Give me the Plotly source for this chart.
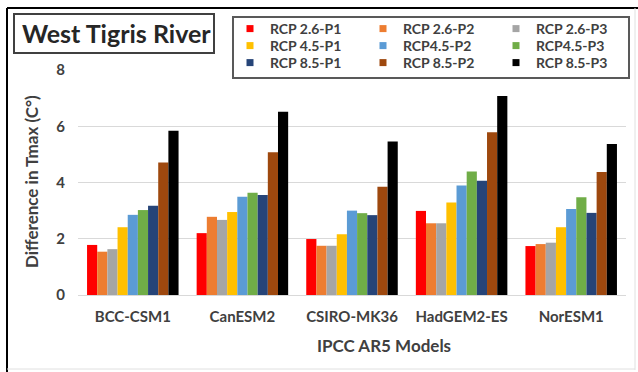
import plotly.graph_objects as go

models = ["BCC-CSM1", "CanESM2", "CSIRO-MK36", "HadGEM2-ES", "NorESM1"]
series_names = ["RCP 2.6-P1", "RCP 2.6-P2", "RCP 2.6-P3",
                "RCP 4.5-P1", "RCP4.5-P2", "RCP4.5-P3",
                "RCP 8.5-P1", "RCP 8.5-P2", "RCP 8.5-P3"]
colors = ["#FF0000", "#ED7D31", "#A5A5A5", "#FFC000", "#5B9BD5",
          "#70AD47", "#264478", "#9E480E", "#000000"]

rcp26_p1 = [1.78, 2.20, 1.99, 2.99, 1.74]
rcp26_p2 = [1.54, 2.78, 1.75, 2.55, 1.81]
rcp26_p3 = [1.63, 2.67, 1.75, 2.55, 1.86]
rcp45_p1 = [2.41, 2.95, 2.16, 3.29, 2.41]
rcp45_p2 = [2.85, 3.49, 3.00, 3.89, 3.06]
rcp45_p3 = [3.02, 3.64, 2.91, 4.39, 3.48]
rcp85_p1 = [3.17, 3.56, 2.84, 4.06, 2.92]
rcp85_p2 = [4.71, 5.08, 3.85, 5.79, 4.37]
rcp85_p3 = [5.84, 6.52, 5.46, 7.08, 5.37]
series_values = [rcp26_p1, rcp26_p2, rcp26_p3, rcp45_p1, rcp45_p2,
                 rcp45_p3, rcp85_p1, rcp85_p2, rcp85_p3]

y_ticks = [0, 2, 4, 6, 8]

W, H = 638, 372
ML, MR, MT, MB = 78, 12, 70, 77
PW, PH = W - ML - MR, H - MT - MB


def px(x):
    return (x - ML) / PW


def py(y):
    return (H - MB - y) / PH


FONT = "Lato"
TXT = "#404040"

fig = go.Figure()
for name, vals, col in zip(series_names, series_values, colors):
    fig.add_trace(go.Bar(x=models, y=vals, name=name, marker_color=col,
                         marker_line_width=0, showlegend=False))

# legend entries (small square swatches), on a hidden helper axis;
# one horizontal legend per row
legend_ids = ["legend", "legend2", "legend3"]
for i, (name, col) in enumerate(zip(series_names, colors)):
    fig.add_trace(go.Scatter(x=[-5], y=[-5], mode="markers", name=name,
                             xaxis="x2", yaxis="y2", hoverinfo="skip",
                             marker=dict(symbol="square", size=7, color=col),
                             legend=legend_ids[i // 3], showlegend=True))

legend_common = dict(xref="container", yref="container", xanchor="left",
                     yanchor="top", bgcolor="rgba(0,0,0,0)", borderwidth=0,
                     orientation="h", entrywidth=88, entrywidthmode="pixels",
                     font=dict(family=FONT, size=14, color=TXT, weight="bold"))
leg_y = [13, 30, 47]
legends = {}
for lid, ly in zip(legend_ids, leg_y):
    legends[lid] = dict(legend_common, x=230 / W, y=1 - ly / H)

shapes = [
    # outer frame
    dict(type="line", xref="paper", yref="paper", x0=px(7), x1=px(638),
         y0=py(8), y1=py(8), line=dict(color="#000000", width=2)),
    dict(type="line", xref="paper", yref="paper", x0=px(7), x1=px(7),
         y0=py(8), y1=py(372), line=dict(color="#000000", width=2)),
    dict(type="line", xref="paper", yref="paper", x0=px(635), x1=px(635),
         y0=py(8), y1=py(370), line=dict(color="#E0E0E0", width=1)),
    dict(type="line", xref="paper", yref="paper", x0=px(7), x1=px(635),
         y0=py(369), y1=py(369), line=dict(color="#E0E0E0", width=1)),
    # title box
    dict(type="rect", xref="paper", yref="paper", x0=px(14), x1=px(214),
         y0=py(14), y1=py(53), line=dict(color="#404040", width=2)),
    # legend box
    dict(type="rect", xref="paper", yref="paper", x0=px(233), x1=px(629),
         y0=py(17), y1=py(78), line=dict(color="#595959", width=2)),
]

annotations = [
    dict(text="West Tigris River", xref="paper", yref="paper", x=px(116),
         y=py(33.5), showarrow=False, xanchor="center", yanchor="middle",
         font=dict(family=FONT, size=25, color="#262626", weight="bold")),
    dict(text="IPCC AR5 Models", xref="paper", yref="paper", x=px(384),
         y=py(345), showarrow=False, xanchor="center", yanchor="middle",
         font=dict(family=FONT, size=17, color=TXT, weight="bold")),
    dict(text="Difference in Tmax (C°)", xref="paper", yref="paper", x=px(31),
         y=py(182), showarrow=False, xanchor="center", yanchor="middle",
         textangle=-90,
         font=dict(family=FONT, size=17, color=TXT, weight="bold")),
]

fig.update_layout(
    width=W, height=H,
    margin=dict(l=ML, r=MR, t=MT, b=MB, autoexpand=False),
    paper_bgcolor="white", plot_bgcolor="white",
    barmode="group", bargap=0.165, bargroupgap=0,
    shapes=shapes, annotations=annotations,
    xaxis2=dict(overlaying="x", range=[0, 1], visible=False, fixedrange=True),
    yaxis2=dict(overlaying="y", range=[0, 1], visible=False, fixedrange=True),
    **legends,
)
fig.layout.xaxis.update(categoryorder="array", categoryarray=models,
                        showline=True, linecolor="#D9D9D9", linewidth=1,
                        showgrid=False, ticks="", ticklabelstandoff=8,
                        automargin=False,
                        tickfont=dict(family=FONT, size=15, color=TXT,
                                      weight="bold"))
fig.layout.yaxis.update(range=[0, 8], tickvals=y_ticks, showgrid=True,
                        gridcolor="#D9D9D9", gridwidth=1, zeroline=False,
                        showline=False, ticks="", ticklabelstandoff=12,
                        automargin=False,
                        tickfont=dict(family=FONT, size=15, color=TXT,
                                      weight="bold"))

fig.write_html("out.html")
